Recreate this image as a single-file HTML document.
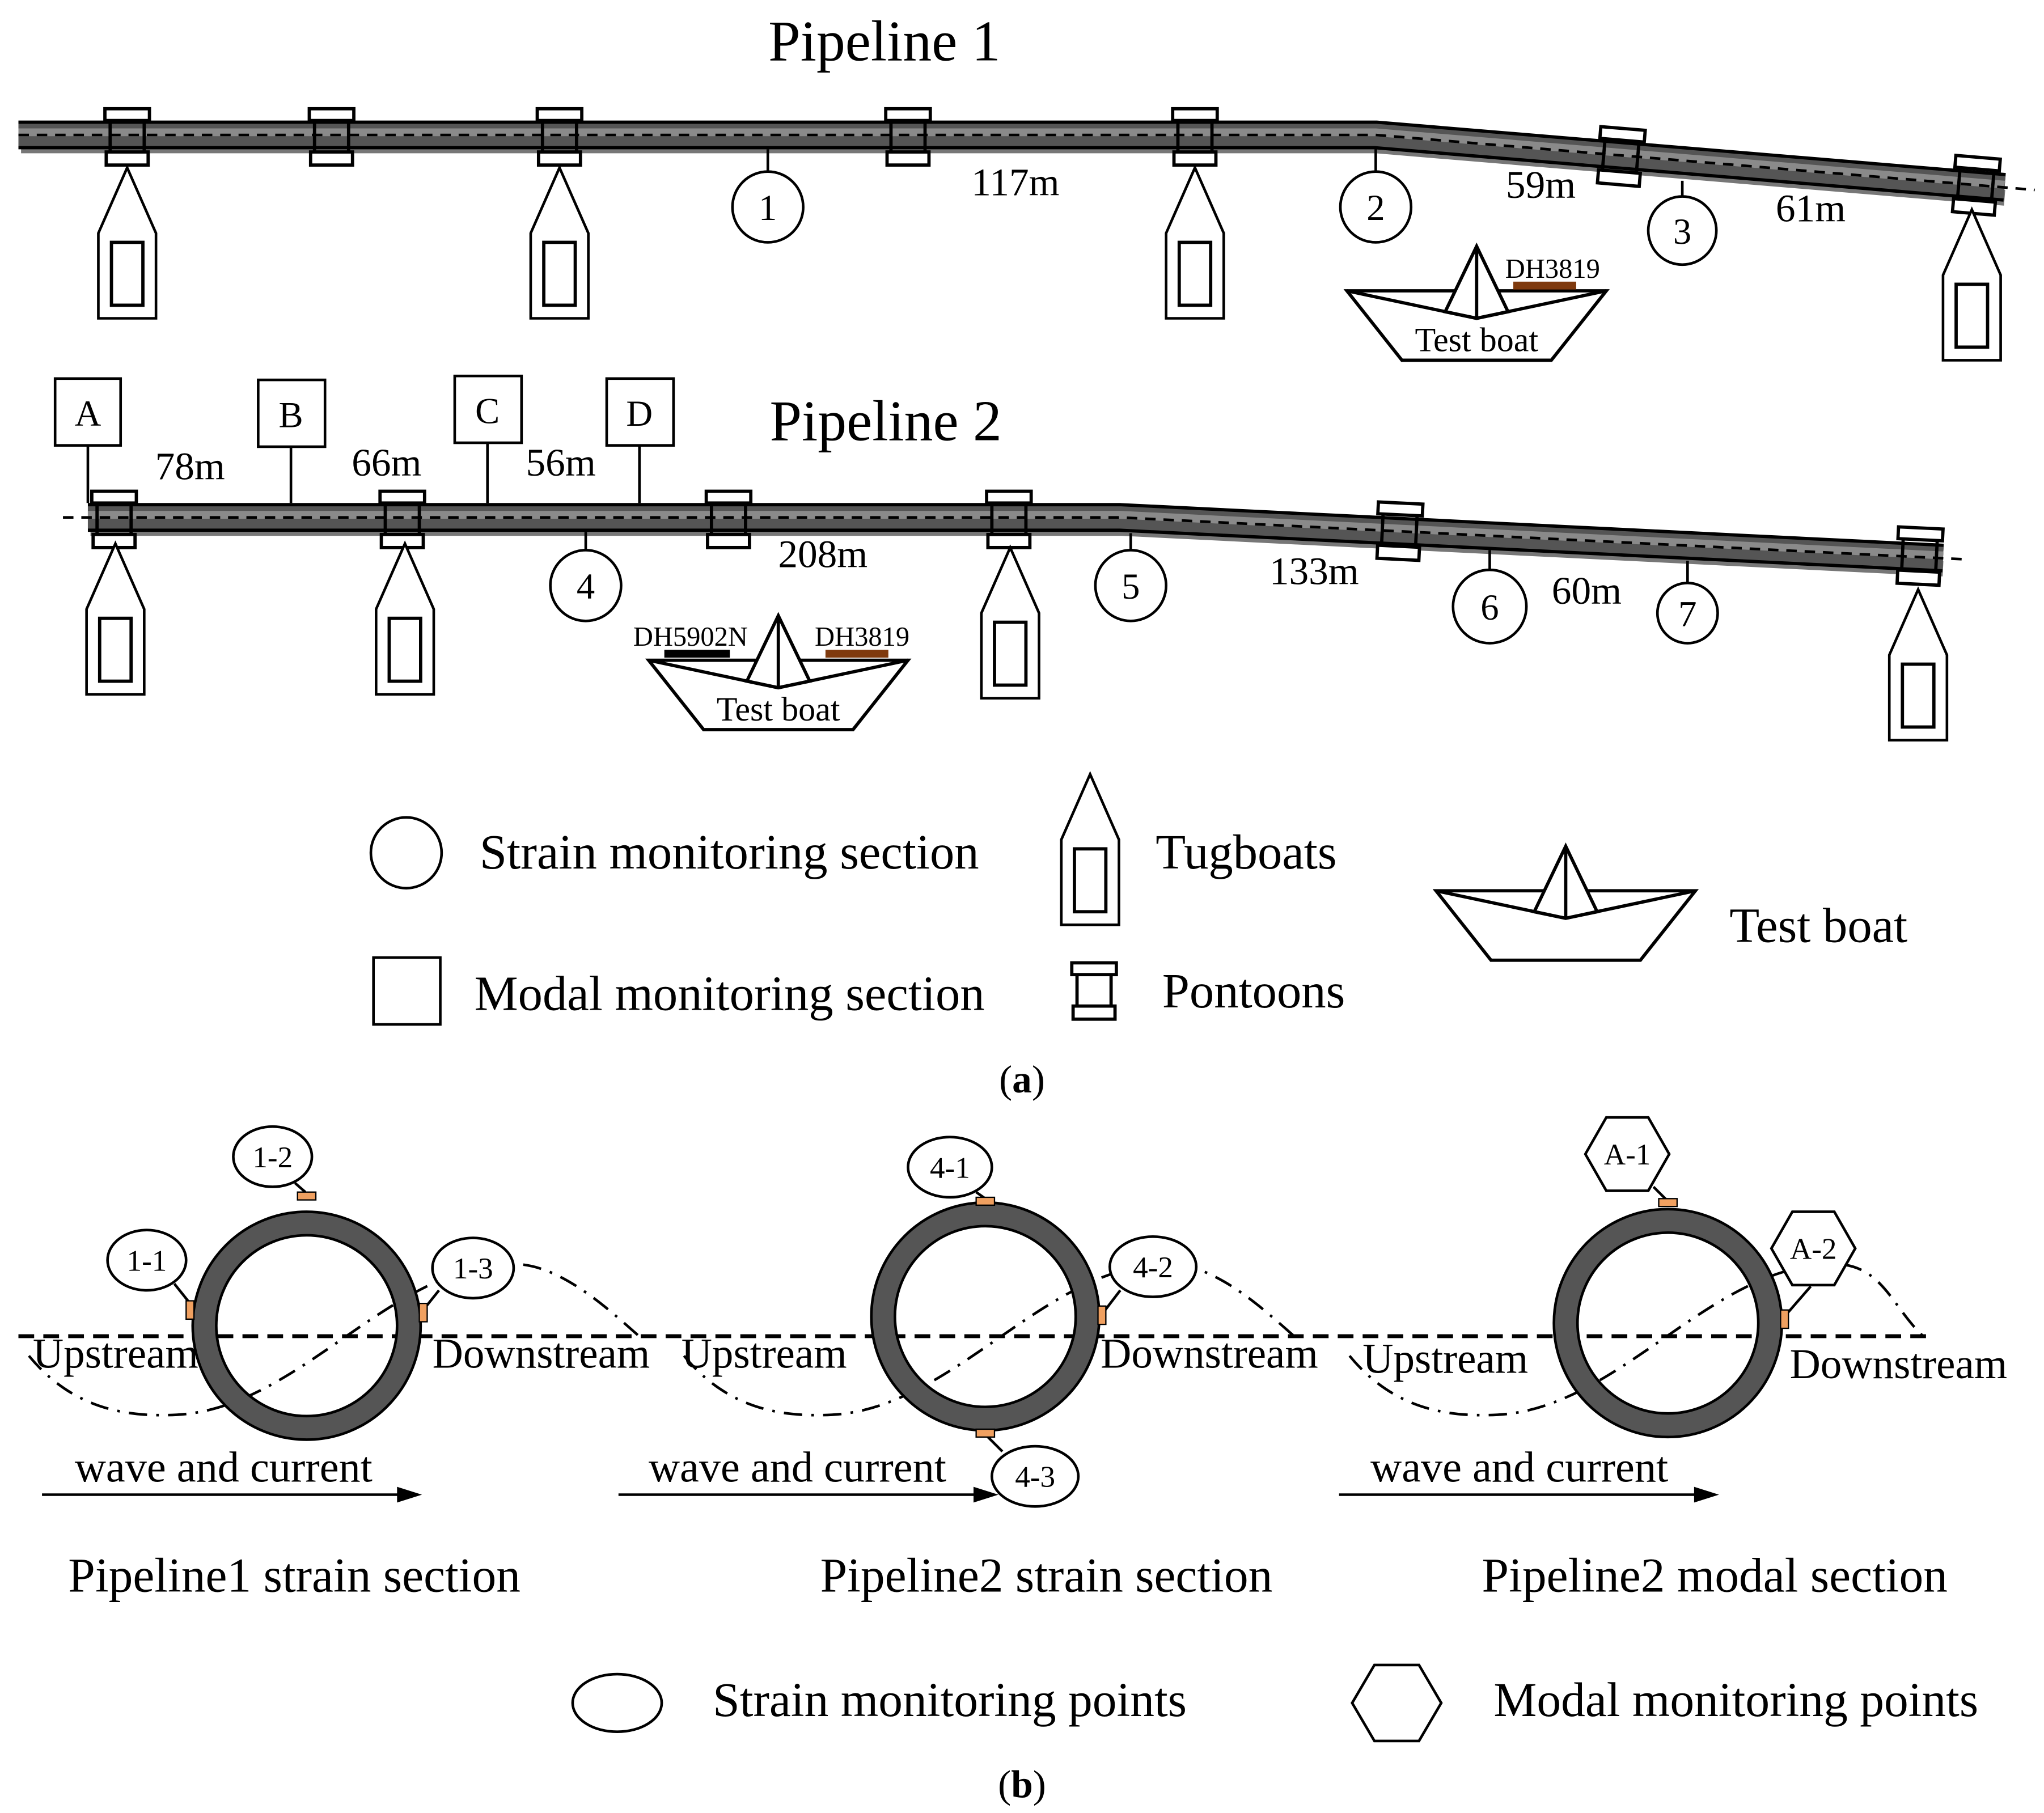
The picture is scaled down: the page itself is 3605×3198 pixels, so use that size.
<!DOCTYPE html>
<html><head><meta charset="utf-8"><style>html,body{margin:0;padding:0;background:#fff}svg{display:block}text{font-family:"Liberation Serif",serif;fill:#000}</style></head><body>
<svg width="3605" height="3198" viewBox="0 0 1560 1384" xmlns="http://www.w3.org/2000/svg">
<defs>
<g id="pt" stroke="#000" stroke-width="2.5" fill="none">
<rect x="-17" y="-21" width="34" height="9" fill="#fff"/>
<rect x="-16" y="12" width="32" height="10" fill="#fff"/>
<line x1="-13" y1="-12" x2="-13" y2="12"/><line x1="13" y1="-12" x2="13" y2="12"/>
</g>
<g id="tug" stroke="#000" stroke-width="2" fill="#fff">
<path d="M0,0 L22,50 L22,115 L-22,115 L-22,50 Z"/>
<rect x="-12" y="57" width="24" height="48" stroke-width="2.5"/>
</g>
<g id="boat" stroke="#000" stroke-width="2.5" fill="#fff" stroke-linejoin="miter">
<path d="M-99,34 L99,34 L57,87 L-57,87 Z"/>
<path d="M0,0 L-24,50 L0,55 L24,50 Z"/>
<path d="M-99,34 L0,55 L99,34" fill="none"/>
<line x1="0" y1="0" x2="0" y2="55"/>
</g>
<g id="hex" stroke="#000" stroke-width="2" fill="#fff">
<path d="M-32,0 L-16,-28 L16,-28 L32,0 L16,28 L-16,28 Z"/>
</g>
</defs>

<!-- Pipeline 1 -->
<text x="675" y="46" font-size="44" text-anchor="middle">Pipeline 1</text>
<g fill="none" stroke-linejoin="round">
<polyline points="16,111 1050,111 1530,151" stroke="#777" stroke-width="12"/>
<polyline points="14,103 1050,103 1530,143" stroke="#000" stroke-width="22"/>
<polyline points="14,103 1050,103 1530,143" stroke="#555" stroke-width="17"/>
<polyline points="14,101 1050,101 1530,141" stroke="#8a8a8a" stroke-width="6"/>
<polyline points="14,103 1050,103 1553,145" stroke="#000" stroke-width="2" stroke-dasharray="8,6"/>
</g>
<g stroke="#000" stroke-width="2">
<line x1="586" y1="114" x2="586" y2="131"/><line x1="1050" y1="114" x2="1050" y2="131"/><line x1="1284" y1="138" x2="1284" y2="153"/>
</g>
<use href="#pt" transform="translate(97,104)"/>
<use href="#pt" transform="translate(253,104)"/>
<use href="#pt" transform="translate(427,104)"/>
<use href="#pt" transform="translate(693,104)"/>
<use href="#pt" transform="translate(912,104)"/>
<use href="#pt" transform="translate(1237,119) rotate(4.8)"/>
<use href="#pt" transform="translate(1508,141) rotate(4.8)"/>
<use href="#tug" transform="translate(97,128)"/>
<use href="#tug" transform="translate(427,128)"/>
<use href="#tug" transform="translate(912,128)"/>
<use href="#tug" transform="translate(1505,160)"/>
<g fill="#fff" stroke="#000" stroke-width="2">
<circle cx="586" cy="158" r="27"/><circle cx="1050" cy="158" r="27"/><circle cx="1284" cy="176" r="26"/>
</g>
<g font-size="28" text-anchor="middle"><text x="586" y="168">1</text><text x="1050" y="168">2</text><text x="1284" y="186">3</text></g>
<g font-size="30" text-anchor="middle"><text x="775" y="149">117m</text><text x="1176" y="151">59m</text><text x="1382" y="169">61m</text></g>
<use href="#boat" transform="translate(1127,188)"/>
<rect x="1155" y="215" width="48" height="6" fill="#7f3a0e"/>
<text x="1185" y="212" font-size="21" text-anchor="middle">DH3819</text>
<text x="1127" y="268" font-size="26" text-anchor="middle">Test boat</text>

<!-- Pipeline 2 -->
<text x="676" y="336" font-size="44" text-anchor="middle">Pipeline 2</text>
<g fill="none" stroke-linejoin="round">
<polyline points="69,403 855,403 1483,434" stroke="#777" stroke-width="12"/>
<polyline points="67,395 855,395 1483,426" stroke="#000" stroke-width="22"/>
<polyline points="67,395 855,395 1483,426" stroke="#555" stroke-width="17"/>
<polyline points="67,393 855,393 1483,424" stroke="#8a8a8a" stroke-width="6"/>
<polyline points="48,395 855,395 1500,427" stroke="#000" stroke-width="2" stroke-dasharray="8,6"/>
</g>
<g fill="#fff" stroke="#000" stroke-width="2">
<line x1="67" y1="340" x2="67" y2="384"/><line x1="222" y1="341" x2="222" y2="384"/><line x1="372" y1="338" x2="372" y2="384"/><line x1="488" y1="340" x2="488" y2="384"/>
<rect x="42" y="289" width="50" height="51"/><rect x="197" y="290" width="51" height="51"/><rect x="347" y="287" width="51" height="51"/><rect x="463" y="289" width="51" height="51"/>
<line x1="447" y1="406" x2="447" y2="420"/><line x1="863" y1="407" x2="863" y2="420"/><line x1="1137" y1="420" x2="1137" y2="436"/><line x1="1288" y1="428" x2="1288" y2="445"/>
</g>
<g font-size="28" text-anchor="middle"><text x="67" y="325">A</text><text x="222" y="326">B</text><text x="372" y="323">C</text><text x="488" y="325">D</text></g>
<use href="#pt" transform="translate(87,396)"/>
<use href="#pt" transform="translate(307,396)"/>
<use href="#pt" transform="translate(556,396)"/>
<use href="#pt" transform="translate(770,396)"/>
<use href="#pt" transform="translate(1068,405) rotate(2.8)"/>
<use href="#pt" transform="translate(1465,424) rotate(2.8)"/>
<use href="#tug" transform="translate(88,415)"/>
<use href="#tug" transform="translate(309,415)"/>
<use href="#tug" transform="translate(771,418)"/>
<use href="#tug" transform="translate(1464,450)"/>
<g fill="#fff" stroke="#000" stroke-width="2">
<circle cx="447" cy="447" r="27"/><circle cx="863" cy="447" r="27"/><circle cx="1137" cy="463" r="28"/><circle cx="1288" cy="468" r="23"/>
</g>
<g font-size="28" text-anchor="middle"><text x="447" y="457">4</text><text x="863" y="457">5</text><text x="1137" y="473">6</text><text x="1288" y="478">7</text></g>
<g font-size="30" text-anchor="middle"><text x="145" y="366">78m</text><text x="295" y="363">66m</text><text x="428" y="363">56m</text><text x="628" y="433">208m</text><text x="1003" y="446">133m</text><text x="1211" y="461">60m</text></g>
<use href="#boat" transform="translate(594,470)"/>
<rect x="507" y="496" width="50" height="6" fill="#000"/>
<rect x="630" y="496" width="48" height="6" fill="#7f3a0e"/>
<text x="527" y="493" font-size="21" text-anchor="middle">DH5902N</text>
<text x="658" y="493" font-size="21" text-anchor="middle">DH3819</text>
<text x="594" y="550" font-size="26" text-anchor="middle">Test boat</text>

<!-- legend a -->
<circle cx="310" cy="651" r="27" fill="#fff" stroke="#000" stroke-width="2"/>
<rect x="285" y="731" width="51" height="51" fill="#fff" stroke="#000" stroke-width="2"/>
<use href="#tug" transform="translate(832,591)"/>
<use href="#pt" transform="translate(835,756)"/>
<use href="#boat" transform="translate(1195,646)"/>
<g font-size="37.5"><text x="366" y="663">Strain monitoring section</text><text x="362" y="771">Modal monitoring section</text><text x="882" y="663">Tugboats</text><text x="887" y="769">Pontoons</text><text x="1320" y="719">Test boat</text></g>
<text x="780" y="834" font-size="30" text-anchor="middle">(<tspan font-weight="bold">a</tspan>)</text>

<!-- part b -->
<line x1="14" y1="1020" x2="1470" y2="1020" stroke="#000" stroke-width="3" stroke-dasharray="12,7"/>
<g fill="none" stroke="#000" stroke-width="2" stroke-dasharray="14,7,2,7">
<path d="M22,1035 C55,1075 95,1082 135,1080 C230,1075 300,962 395,965 C430,967 465,1000 490,1022"/>
<path d="M522,1035 C555,1075 595,1082 635,1080 C730,1075 800,962 895,965 C930,967 965,1000 990,1022"/>
<path d="M1030,1035 C1063,1075 1103,1082 1143,1080 C1238,1075 1308,962 1403,965 C1438,967 1445,1000 1470,1022"/>
</g>
<g fill="none" stroke="#000" stroke-width="2">
<circle cx="234" cy="1012" r="78" stroke="#555" stroke-width="18"/>
<circle cx="234" cy="1012" r="87"/><circle cx="234" cy="1012" r="69"/>
<circle cx="752" cy="1005" r="78" stroke="#555" stroke-width="18"/>
<circle cx="752" cy="1005" r="87"/><circle cx="752" cy="1005" r="69"/>
<circle cx="1273" cy="1010" r="78" stroke="#555" stroke-width="18"/>
<circle cx="1273" cy="1010" r="87"/><circle cx="1273" cy="1010" r="69"/>
</g>
<g stroke="#000" stroke-width="2">
<line x1="233" y1="910" x2="225" y2="903"/><line x1="145" y1="995" x2="133" y2="980"/><line x1="323" y1="1000" x2="335" y2="985"/>
<line x1="752" y1="915" x2="745" y2="910"/><line x1="842" y1="1002" x2="855" y2="985"/><line x1="752" y1="1095" x2="765" y2="1108"/>
<line x1="1273" y1="917" x2="1262" y2="906"/><line x1="1362" y1="1005" x2="1382" y2="982"/>
</g>
<g fill="#f0a060" stroke="#000" stroke-width="1">
<rect x="227" y="910" width="14" height="6"/><rect x="142" y="993" width="6" height="14"/><rect x="320" y="995" width="6" height="14"/>
<rect x="745" y="914" width="14" height="6"/><rect x="838" y="997" width="6" height="14"/><rect x="745" y="1091" width="14" height="6"/>
<rect x="1266" y="915" width="14" height="6"/><rect x="1359" y="1000" width="6" height="14"/>
</g>
<g fill="#fff" stroke="#000" stroke-width="2">
<ellipse cx="208" cy="883" rx="30" ry="23"/><ellipse cx="112" cy="962" rx="30" ry="23"/><ellipse cx="361" cy="968" rx="31" ry="23"/>
<ellipse cx="725" cy="891" rx="32" ry="23"/><ellipse cx="880" cy="967" rx="33" ry="23"/><ellipse cx="790" cy="1127" rx="33" ry="23"/>
</g>
<use href="#hex" transform="translate(1242,881)"/>
<use href="#hex" transform="translate(1384,953)"/>
<g font-size="23" text-anchor="middle"><text x="208" y="891">1-2</text><text x="112" y="970">1-1</text><text x="361" y="976">1-3</text><text x="725" y="899">4-1</text><text x="880" y="975">4-2</text><text x="790" y="1135">4-3</text><text x="1242" y="889">A-1</text><text x="1384" y="961">A-2</text></g>
<g font-size="32.5"><text x="25" y="1044">Upstream</text><text x="330" y="1044">Downstream</text><text x="520" y="1044">Upstream</text><text x="840" y="1044">Downstream</text><text x="1040" y="1048">Upstream</text><text x="1366" y="1052">Downstream</text>
<text x="57" y="1131" font-size="33">wave and current</text><text x="495" y="1131" font-size="33">wave and current</text><text x="1046" y="1131" font-size="33">wave and current</text></g>
<g stroke="#000" stroke-width="2"><line x1="32" y1="1141" x2="305" y2="1141"/><line x1="472" y1="1141" x2="745" y2="1141"/><line x1="1022" y1="1141" x2="1295" y2="1141"/></g>
<g fill="#000"><path d="M322,1141 L303,1135 L303,1147 Z"/><path d="M762,1141 L743,1135 L743,1147 Z"/><path d="M1312,1141 L1293,1135 L1293,1147 Z"/></g>
<g font-size="37"><text x="52" y="1215">Pipeline1 strain section</text><text x="626" y="1215">Pipeline2 strain section</text><text x="1131" y="1215">Pipeline2 modal section</text></g>
<ellipse cx="471" cy="1300" rx="34" ry="22" fill="#fff" stroke="#000" stroke-width="2"/>
<path d="M1032,1300 L1049,1271 L1083,1271 L1100,1300 L1083,1329 L1049,1329 Z" fill="#fff" stroke="#000" stroke-width="2"/>
<g font-size="37"><text x="544" y="1310">Strain monitoring points</text><text x="1140" y="1310">Modal monitoring points</text></g>
<text x="780" y="1372" font-size="30" text-anchor="middle">(<tspan font-weight="bold">b</tspan>)</text>
</svg>
</body></html>
